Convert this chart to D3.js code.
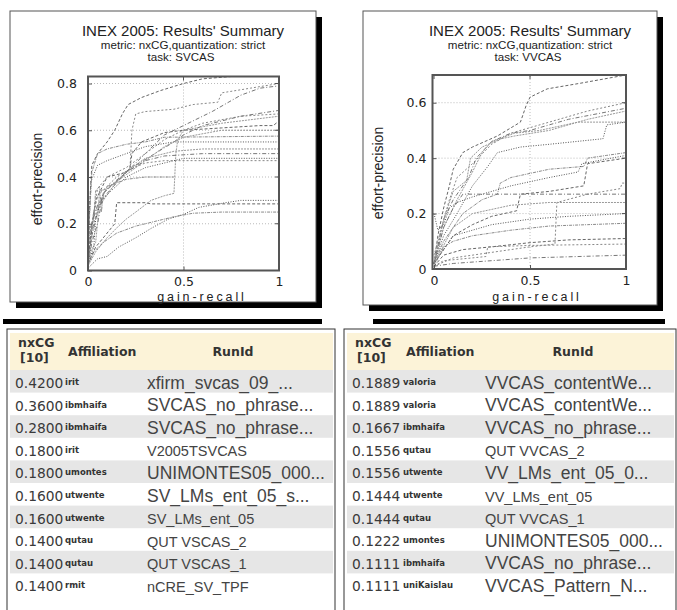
<!DOCTYPE html>
<html>
<head>
<meta charset="utf-8">
<script src="https://cdn.jsdelivr.net/npm/d3@7"></script>
<style>
  body { margin: 0; background: #fff; }
  svg { display: block; }
</style>
</head>
<body>
<script>
// ---- data ----
const xTicks = [0, 0.5, 1];
const svYTicks = [0, 0.2, 0.4, 0.6, 0.8];
const vvYTicks = [0, 0.2, 0.4, 0.6];

// SVCAS runs: [gain-recall, effort-precision]
const svRuns = [
  [[0,0.05],[0.01,0.3],[0.02,0.45],[0.05,0.5],[0.1,0.55],[0.14,0.6],[0.18,0.67],[0.21,0.71],[0.28,0.74],[0.38,0.77],[0.5,0.8],[0.6,0.82],[0.75,0.83],[1,0.83]],
  [[0,0.02],[0.03,0.2],[0.06,0.3],[0.1,0.35],[0.18,0.4],[0.22,0.44],[0.23,0.6],[0.25,0.67],[0.3,0.68],[0.45,0.69],[0.55,0.71],[0.68,0.72],[0.7,0.76],[0.85,0.78],[1,0.8]],
  [[0,0.04],[0.02,0.2],[0.05,0.28],[0.1,0.33],[0.2,0.42],[0.3,0.5],[0.4,0.58],[0.5,0.62],[0.65,0.68],[0.8,0.75],[0.9,0.78],[1,0.79]],
  [[0,0.02],[0.04,0.08],[0.1,0.14],[0.16,0.19],[0.2,0.22],[0.25,0.25],[0.33,0.3],[0.4,0.32],[0.45,0.33],[0.46,0.5],[0.47,0.56],[0.5,0.6],[0.7,0.63],[1,0.66]],
  [[0,0.01],[0.05,0.05],[0.1,0.06],[0.16,0.1],[0.25,0.14],[0.33,0.18],[0.42,0.22],[0.5,0.24],[0.58,0.27],[0.72,0.29],[0.8,0.3],[1,0.3]],
  [[0,0.02],[0.03,0.08],[0.08,0.12],[0.15,0.16],[0.25,0.19],[0.35,0.21],[0.45,0.23],[0.55,0.245],[0.7,0.25],[1,0.25]],
  [[0,0.03],[0.04,0.1],[0.1,0.16],[0.14,0.2],[0.15,0.29],[0.3,0.29],[0.33,0.285],[1,0.285]],
  [[0,0.05],[0.02,0.2],[0.05,0.32],[0.1,0.36],[0.15,0.4],[0.21,0.43],[0.3,0.46],[0.4,0.47],[1,0.47]],
  [[0,0.03],[0.02,0.15],[0.05,0.25],[0.08,0.33],[0.14,0.38],[0.2,0.42],[0.3,0.47],[0.4,0.49],[0.6,0.5],[1,0.5]],
  [[0,0.05],[0.03,0.25],[0.08,0.3],[0.15,0.38],[0.21,0.43],[0.3,0.48],[0.45,0.51],[0.6,0.52],[1,0.52]],
  [[0,0.1],[0.015,0.38],[0.05,0.45],[0.1,0.47],[0.2,0.5],[0.3,0.53],[0.45,0.55],[1,0.55]],
  [[0,0.1],[0.02,0.42],[0.05,0.5],[0.1,0.52],[0.2,0.54],[0.3,0.55],[0.4,0.57],[1,0.575]],
  [[0,0.05],[0.04,0.3],[0.1,0.4],[0.2,0.42],[0.22,0.44],[0.23,0.5],[0.28,0.55],[0.4,0.59],[0.5,0.6],[0.7,0.61],[0.9,0.62],[0.97,0.62],[1,0.64]],
  [[0,0.1],[0.05,0.35],[0.1,0.4],[0.2,0.44],[0.3,0.5],[0.4,0.56],[0.5,0.6],[0.6,0.63],[0.8,0.66],[1,0.67]],
  [[0,0.02],[0.02,0.12],[0.05,0.2],[0.08,0.33],[0.12,0.36],[0.2,0.42],[0.25,0.45],[0.35,0.5],[0.45,0.55],[0.5,0.58],[0.6,0.62],[0.8,0.66],[1,0.685]],
  [[0,0.06],[0.04,0.12],[0.05,0.2],[0.06,0.34],[0.1,0.35],[0.2,0.41],[0.3,0.47],[0.4,0.53],[0.5,0.57],[0.7,0.6],[1,0.6]],
  [[0,0.03],[0.03,0.1],[0.04,0.22],[0.07,0.3],[0.12,0.34],[0.2,0.4],[0.3,0.44],[0.4,0.46],[0.5,0.48],[1,0.48]],
  [[0,0.08],[0.01,0.18],[0.03,0.22],[0.04,0.34],[0.06,0.36],[0.07,0.25],[0.08,0.32],[0.1,0.36],[0.2,0.39],[0.3,0.4],[0.45,0.4]]
];

// VVCAS runs
const vvRuns = [
  [[0,0.02],[0.02,0.12],[0.05,0.22],[0.08,0.3],[0.1,0.36],[0.15,0.42],[0.2,0.44],[0.33,0.48],[0.45,0.53],[0.48,0.59],[0.5,0.62],[0.59,0.65],[0.76,0.67],[1,0.7]],
  [[0,0.02],[0.04,0.15],[0.08,0.25],[0.12,0.33],[0.2,0.38],[0.3,0.45],[0.4,0.49],[0.5,0.51],[0.6,0.53],[0.8,0.57],[1,0.6]],
  [[0,0.02],[0.05,0.18],[0.1,0.25],[0.18,0.33],[0.22,0.4],[0.3,0.46],[0.4,0.49],[0.5,0.5],[0.7,0.54],[1,0.58]],
  [[0,0.02],[0.05,0.15],[0.12,0.25],[0.2,0.35],[0.25,0.42],[0.3,0.46],[0.42,0.49],[0.55,0.5],[0.75,0.53],[1,0.53]],
  [[0,0.02],[0.05,0.12],[0.12,0.2],[0.2,0.3],[0.28,0.37],[0.33,0.42],[0.45,0.44],[0.6,0.45],[0.88,0.47],[0.9,0.52],[1,0.53]],
  [[0,0.02],[0.05,0.1],[0.15,0.2],[0.25,0.25],[0.33,0.27],[0.345,0.31],[0.4,0.33],[0.6,0.36],[0.78,0.37],[0.8,0.4],[0.9,0.41],[1,0.42]],
  [[0,0.02],[0.1,0.12],[0.2,0.16],[0.3,0.19],[0.43,0.21],[0.45,0.27],[0.6,0.28],[0.78,0.3],[0.8,0.38],[1,0.4]],
  [[0,0.01],[0.1,0.04],[0.3,0.06],[0.5,0.08],[0.63,0.09],[0.64,0.24],[0.8,0.27],[0.97,0.29],[0.98,0.31],[1,0.31]],
  [[0,0.02],[0.05,0.15],[0.1,0.22],[0.15,0.27],[1,0.27]],
  [[0,0.02],[0.1,0.15],[0.2,0.2],[0.4,0.23],[0.6,0.24],[1,0.24]],
  [[0,0.02],[0.1,0.12],[0.3,0.16],[0.5,0.18],[0.7,0.19],[1,0.2]],
  [[0,0.01],[0.05,0.08],[0.1,0.1],[0.2,0.12],[0.4,0.14],[0.6,0.155],[0.8,0.16],[1,0.165]],
  [[0,0.01],[0.05,0.05],[0.15,0.07],[0.3,0.08],[0.5,0.095],[0.7,0.105],[1,0.11]],
  [[0,0.01],[0.05,0.03],[0.2,0.04],[0.27,0.045],[0.28,0.08],[0.5,0.085],[1,0.09]],
  [[0,0.01],[0.1,0.02],[0.3,0.03],[0.5,0.04],[1,0.05]],
  [[0,0.05],[0.06,0.2],[0.1,0.28],[0.17,0.32],[0.19,0.4],[0.25,0.44],[0.35,0.47],[0.42,0.48],[0.6,0.5],[0.8,0.54],[1,0.57]],
  [[0,0.2],[0.02,0.14],[0.05,0.16],[0.08,0.22],[0.12,0.24],[0.2,0.26],[0.4,0.3],[0.6,0.33],[0.75,0.35],[0.77,0.38],[1,0.41]]
];

// tables
const svScores = ["0.4200","0.3600","0.2800","0.1800","0.1800","0.1600","0.1600","0.1400","0.1400","0.1400"];
const svAffils = ["irit","ibmhaifa","ibmhaifa","irit","umontes","utwente","utwente","qutau","qutau","rmit"];
const svRunIds = ["xfirm_svcas_09_...","SVCAS_no_phrase...","SVCAS_no_phrase...","V2005TSVCAS","UNIMONTES05_000...","SV_LMs_ent_05_s...","SV_LMs_ent_05","QUT VSCAS_2","QUT VSCAS_1","nCRE_SV_TPF"];

const vvScores = ["0.1889","0.1889","0.1667","0.1556","0.1556","0.1444","0.1444","0.1222","0.1111","0.1111"];
const vvAffils = ["valoria","valoria","ibmhaifa","qutau","utwente","utwente","qutau","umontes","ibmhaifa","uniKaislau"];
const vvRunIds = ["VVCAS_contentWe...","VVCAS_contentWe...","VVCAS_no_phrase...","QUT VVCAS_2","VV_LMs_ent_05_0...","VV_LMs_ent_05","QUT VVCAS_1","UNIMONTES05_000...","VVCAS_no_phrase...","VVCAS_Pattern_N..."];

// ---- drawing ----
const width = 677, height = 610;
const svg = d3.select("body").append("svg")
  .attr("width", width)
  .attr("height", height);

svg.append("rect").attr("width", width).attr("height", height).attr("fill", "#fff");

const sans = "'Liberation Sans', Arial, sans-serif";
const verd = "'DejaVu Sans', Verdana, sans-serif";
const lineColors = ["#666", "#888", "#777", "#999", "#555", "#8a8a8a"];
const dashes = ["3,2", "2,2", "4,2,1,2", "2,1", "1,1.5", "3,1,1,1"];

function drawPanel(p) {
  const g = svg.append("g");
  const [bx0, by0, bx1, by1] = p.box;

  // drop shadow + box
  g.append("rect")
    .attr("x", bx0 + 6).attr("y", by0 + 6)
    .attr("width", bx1 - bx0).attr("height", by1 - by0)
    .attr("fill", "#000");
  g.append("rect")
    .attr("x", bx0).attr("y", by0)
    .attr("width", bx1 - bx0).attr("height", by1 - by0)
    .attr("fill", "#fff")
    .attr("stroke", "#555");
  // dark strip under the panel
  g.append("rect")
    .attr("x", p.base[0]).attr("y", 319)
    .attr("width", p.base[1] - p.base[0]).attr("height", 5)
    .attr("fill", "#000");

  const x = d3.scaleLinear().domain([p.xMin, 1]).range(p.xRange);
  const y = d3.scaleLinear().domain([0, p.yMax]).range(p.yRange);

  // titles
  g.append("text")
    .attr("x", p.cx).attr("y", 36)
    .attr("text-anchor", "middle")
    .style("font", `15px ${sans}`).attr("fill", "#222")
    .text("INEX 2005: Results' Summary");
  g.append("text")
    .attr("x", p.cx).attr("y", 49)
    .attr("text-anchor", "middle")
    .style("font", `11.6px ${sans}`).attr("fill", "#222")
    .text("metric: nxCG,quantization: strict");
  g.append("text")
    .attr("x", p.cx - 2).attr("y", 61)
    .attr("text-anchor", "middle")
    .style("font", `11.6px ${sans}`).attr("fill", "#222")
    .text("task: " + p.task);

  // grid
  g.append("g").selectAll("line")
    .data(p.yTicks.filter(d => d > 0))
    .join("line")
    .attr("x1", x(p.xMin)).attr("x2", x(1))
    .attr("y1", d => y(d)).attr("y2", d => y(d))
    .attr("stroke", "#bbb").attr("stroke-dasharray", "1,2");
  g.append("line")
    .attr("x1", x(0.5)).attr("x2", x(0.5))
    .attr("y1", y(0)).attr("y2", y(p.yMax))
    .attr("stroke", "#bbb").attr("stroke-dasharray", "1,2");

  // runs
  const line = d3.line().x(d => x(d[0])).y(d => y(d[1]));
  g.append("g")
    .selectAll("path")
    .data(p.runs)
    .join("path")
    .attr("d", line)
    .attr("fill", "none")
    .attr("stroke", (d, i) => lineColors[i % lineColors.length])
    .attr("stroke-width", 1)
    .attr("stroke-dasharray", (d, i) => dashes[i % dashes.length]);

  // frame
  g.append("rect")
    .attr("x", x(p.xMin)).attr("y", y(p.yMax))
    .attr("width", x(1) - x(p.xMin)).attr("height", y(0) - y(p.yMax))
    .attr("fill", "none")
    .attr("stroke", "#555").attr("stroke-width", 2);

  // mirrored inner ticks on right and top
  g.append("g").selectAll("line")
    .data(p.yTicks)
    .join("line")
    .attr("x1", x(1)).attr("x2", x(1) - 4)
    .attr("y1", d => y(d)).attr("y2", d => y(d))
    .attr("stroke", "#555");
  g.append("g").selectAll("line")
    .data(xTicks)
    .join("line")
    .attr("x1", d => x(d)).attr("x2", d => x(d))
    .attr("y1", y(p.yMax)).attr("y2", y(p.yMax) + 4)
    .attr("stroke", "#555");

  // axes (labels only, gnuplot style)
  const yAxis = g.append("g")
    .attr("transform", `translate(${x(p.xMin)},0)`)
    .call(d3.axisLeft(y).tickValues(p.yTicks).tickSize(4).tickPadding(p.yPad).tickFormat(d => String(d)));
  const xAxis = g.append("g")
    .attr("transform", `translate(0,${y(0)})`)
    .call(d3.axisBottom(x).tickValues(xTicks).tickSize(4).tickPadding(p.xPad).tickFormat(d => String(d)));
  [yAxis, xAxis].forEach(a => {
    a.select(".domain").remove();
    a.selectAll(".tick line").attr("stroke", "#555");
    a.selectAll("text").style("font", `12.5px ${verd}`).attr("fill", "#222");
  });
  yAxis.selectAll(".tick line").attr("x2", 4);
  xAxis.selectAll(".tick line").attr("y2", -4);

  g.append("text")
    .attr("x", p.xLabelX).attr("y", 301)
    .attr("text-anchor", "middle")
    .style("font", `12.5px ${sans}`).style("letter-spacing", "2.9px").attr("fill", "#222")
    .text("gain-recall");
  g.append("text")
    .attr("transform", `translate(${p.yLabelX},${p.yLabelY}) rotate(-90)`)
    .attr("text-anchor", "middle")
    .style("font", `14px ${sans}`).attr("fill", "#222")
    .text("effort-precision");
}

drawPanel({
  box: [10, 11, 316, 302], base: [3, 322],
  xMin: 0, xRange: [88, 279], yMax: 0.83, yRange: [270.5, 76.5],
  yTicks: svYTicks, yPad: 7, xPad: 3, runs: svRuns, task: "SVCAS",
  cx: 183, xLabelX: 202, yLabelX: 42, yLabelY: 179
});
drawPanel({
  box: [363, 11, 657, 305], base: [373, 665],
  xMin: -0.008, xRange: [432.5, 626], yMax: 0.7, yRange: [269, 75],
  yTicks: vvYTicks, yPad: 2, xPad: 3.5, runs: vvRuns, task: "VVCAS",
  cx: 530, xLabelX: 537, yLabelX: 383, yLabelY: 173
});

function drawTable(t) {
  const g = svg.append("g");
  const n = t.scores.length;
  const rowH = 22.6, top = 370;
  const rows = d3.scaleBand().domain(d3.range(n)).range([top, top + n * rowH]);

  const clipId = "clip-" + t.id;
  svg.append("clipPath").attr("id", clipId)
    .append("rect")
    .attr("x", t.x0).attr("y", 325)
    .attr("width", t.x1 - t.x0 - 2).attr("height", 300);

  g.append("rect")
    .attr("x", t.x0).attr("y", 329)
    .attr("width", t.x1 - t.x0).attr("height", 300)
    .attr("fill", "#fff").attr("stroke", "#333");
  g.append("rect")
    .attr("x", t.x0 + 3).attr("y", 333)
    .attr("width", t.x1 - t.x0 - 5).attr("height", top - 333)
    .attr("fill", "#fcf3d8");

  g.selectAll("rect.band")
    .data(d3.range(n).filter(i => i % 2 === 0))
    .join("rect")
    .attr("class", "band")
    .attr("x", t.x0 + 3).attr("y", i => rows(i))
    .attr("width", t.x1 - t.x0 - 5).attr("height", rows.bandwidth())
    .attr("fill", "#e6e6e6");

  // header
  const hdr = g.append("g").style("font", `bold 12.5px ${verd}`).attr("fill", "#333");
  hdr.append("text").attr("x", t.cVal + 3).attr("y", 347).text("nxCG");
  hdr.append("text").attr("x", t.cVal + 5).attr("y", 362).text("[10]");
  hdr.append("text").attr("x", t.cAff + 3).attr("y", 356).text("Affiliation");
  hdr.append("text").attr("x", t.cRunMid).attr("y", 356).attr("text-anchor", "middle").text("RunId");

  const body = g.append("g").attr("clip-path", `url(#${clipId})`);
  body.selectAll("text.val")
    .data(t.scores)
    .join("text")
    .attr("class", "val")
    .attr("x", t.cVal).attr("y", (d, i) => rows(i) + 18)
    .style("font", `13.8px ${verd}`).attr("fill", "#3a3a3a")
    .text(d => d);
  body.selectAll("text.aff")
    .data(t.affils)
    .join("text")
    .attr("class", "aff")
    .attr("x", t.cAff).attr("y", (d, i) => rows(i) + 15)
    .style("font", `bold 8.5px ${verd}`).attr("fill", "#333")
    .text(d => d);
  // truncated run ids show in the larger face
  body.selectAll("text.run")
    .data(t.runIds)
    .join("text")
    .attr("class", "run")
    .attr("x", t.cRun).attr("y", (d, i) => rows(i) + 18.5)
    .style("font", d => d.endsWith("...") ? `17.5px ${sans}` : `14.5px ${sans}`)
    .attr("fill", "#444")
    .text(d => d);
}

drawTable({ id: "sv", x0: 7, x1: 335, cVal: 15, cAff: 65, cRun: 147, cRunMid: 233,
  scores: svScores, affils: svAffils, runIds: svRunIds });
drawTable({ id: "vv", x0: 344, x1: 676, cVal: 352, cAff: 403, cRun: 485, cRunMid: 573,
  scores: vvScores, affils: vvAffils, runIds: vvRunIds });
</script>
</body>
</html>
